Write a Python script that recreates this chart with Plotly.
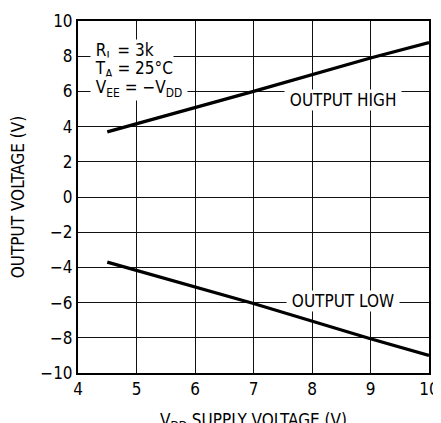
import plotly.graph_objects as go

vdd = [4.5, 7, 9, 10]
out_high = [3.7, 6.0, 7.9, 8.78]
out_low = [-3.7, -6.05, -8.05, -9.0]

x_ticks = [4, 5, 6, 7, 8, 9, 10]
y_ticks = [-10, -8, -6, -4, -2, 0, 2, 4, 6, 8, 10]
y_tick_text = ["\u221210", "\u22128", "\u22126", "\u22124", "\u22122", "0", "2", "4", "6", "8", "10"]

FONT = "DejaVu Sans Condensed, Liberation Sans Narrow, sans-serif"

fig = go.Figure()
fig.add_trace(go.Scatter(x=vdd, y=out_high, mode="lines",
                         line=dict(color="black", width=3.2), showlegend=False))
fig.add_trace(go.Scatter(x=vdd, y=out_low, mode="lines",
                         line=dict(color="black", width=3.2), showlegend=False))

axis_common = dict(showgrid=True, gridcolor="#111", gridwidth=1, automargin=False,
                   showline=True, linecolor="black", linewidth=2, mirror=True,
                   zeroline=False, ticks="", tickfont=dict(family=FONT, size=17, color="black"))

fig.update_xaxes(range=[4, 10], tickvals=x_ticks, **axis_common)
fig.update_yaxes(range=[-10, 10], tickvals=y_ticks, ticktext=y_tick_text, **axis_common,
                 title=dict(text="OUTPUT VOLTAGE (V)",
                            font=dict(family=FONT, size=17, color="black")))

fig.add_annotation(xref="paper", yref="paper", x=0.5, y=-0.1, xanchor="center", yanchor="top",
                   text="V<sub>DD</sub> SUPPLY VOLTAGE (V)", showarrow=False,
                   font=dict(family=FONT, size=17, color="black"))

ann_font = dict(family=FONT, size=17, color="black")
NB = "\u00a0"
labels = [
    (NB + "R<sub>L</sub> = 3k" + NB * 4, 4.2, 8.27),
    (NB + "T<sub>A</sub> = 25\u00b0C" + NB, 4.2, 7.22),
    (NB + "V<sub>EE</sub> = \u2212V<sub>DD</sub>" + NB, 4.2, 6.15),
]
for txt, x, y in labels:
    fig.add_annotation(x=x, y=y, text=txt, showarrow=False, xanchor="left", yanchor="middle",
                       font=ann_font, bgcolor="white", borderpad=0)

fig.add_annotation(x=8.53, y=5.5, text=NB + "OUTPUT HIGH" + NB, showarrow=False, font=ann_font,
                   bgcolor="white", borderpad=0)
fig.add_annotation(x=8.53, y=-5.9, text=NB + "OUTPUT LOW" + NB, showarrow=False, font=ann_font,
                   bgcolor="white", borderpad=0)

fig.update_layout(width=433, height=415, margin=dict(l=70, r=12, t=13, b=50),
                  plot_bgcolor="white", paper_bgcolor="white",
                  font=dict(family=FONT, size=17, color="black"))

fig.write_html("out.html")
